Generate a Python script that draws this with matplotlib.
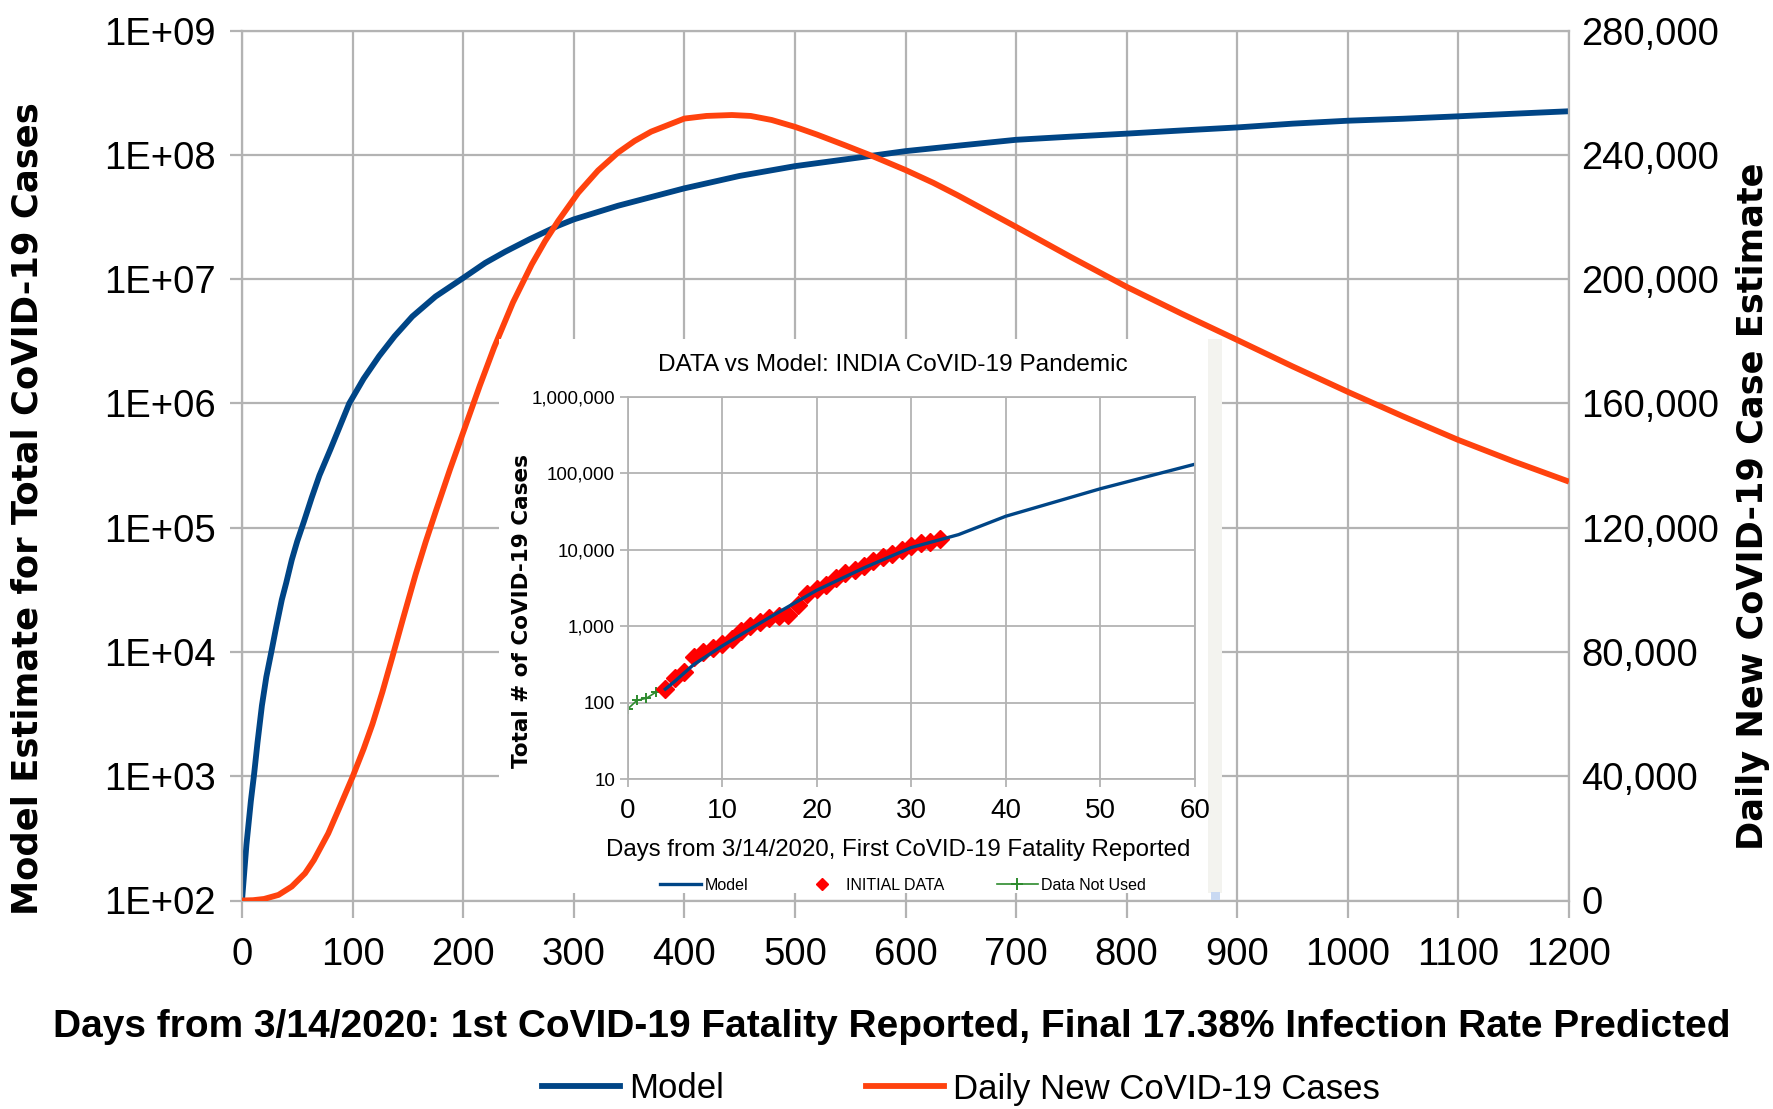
import numpy as np
import matplotlib
matplotlib.use("Agg")
import matplotlib.pyplot as plt
from matplotlib import font_manager as fm
from matplotlib.ticker import FixedLocator, FuncFormatter, NullLocator
from matplotlib.lines import Line2D
from matplotlib.patches import Rectangle

# ---- data ----
# main chart: model estimate of total cases (left, log axis)
model_days = [0, 4, 8, 11, 14, 18, 22, 27, 31, 36, 40, 45, 50, 56, 63, 70, 80, 97, 110,
              124, 138, 154, 175, 200, 220, 238, 260, 286, 300, 340, 370, 400, 450, 500,
              550, 600, 650, 700, 750, 800, 850, 900, 950, 1000, 1050, 1100, 1150, 1200]
model_cases = [1.0e2, 2.8e2, 6.3e2, 1.05e3, 1.86e3, 3.7e3, 6.3e3, 1.05e4, 1.6e4, 2.63e4,
               3.6e4, 5.5e4, 7.8e4, 1.12e5, 1.74e5, 2.63e5, 4.27e5, 1.0e6, 1.58e6,
               2.4e6, 3.47e6, 5.0e6, 7.24e6, 1.02e7, 1.35e7, 1.66e7, 2.09e7, 2.69e7, 3.02e7,
               3.89e7, 4.57e7, 5.37e7, 6.76e7, 8.1e7, 9.3e7, 1.07e8, 1.19e8, 1.32e8, 1.4e8,
               1.48e8, 1.57e8, 1.66e8, 1.78e8, 1.88e8, 1.95e8, 2.04e8, 2.14e8, 2.24e8]

# main chart: daily new cases (right, linear axis)
daily_days = [0, 10, 20, 33, 45, 57, 65, 78, 88, 100, 110, 118, 127, 136, 146, 157, 166,
              175, 188, 202, 215, 228, 245, 262, 274, 286, 304, 322, 340, 355, 370, 400,
              420, 443, 460, 479, 500, 520, 545, 570, 600, 625, 647, 700, 750, 800, 850,
              900, 950, 1000, 1050, 1100, 1150, 1200]
daily_cases = [0, 100, 500, 1800, 4500, 8750, 13000, 21600, 29800, 39800, 48800, 56800,
               67150, 78400, 91200, 104950, 115300, 125000, 138650, 152650, 165650, 178000,
               192450, 204700, 212150, 218750, 227750, 234950, 240700, 244450, 247450,
               251650, 252500, 252800, 252500, 251200, 249000, 246500, 243100, 239600,
               235100, 231000, 227000, 216800, 207000, 197500, 188800, 180400, 171900,
               163700, 155800, 148200, 141300, 134800]

# inset: India data vs model
unused_days = [0, 1, 2, 3]
unused_cases = [82, 107, 114, 137]
initial_days = list(range(4, 34))
initial_cases = [150, 213, 253, 395, 466, 520, 585, 690, 860, 1020, 1140, 1280, 1350, 1420,
                 1870, 2600, 3100, 3500, 4300, 4900, 5400, 6100, 7200, 8000, 8900, 10000,
                 11300, 12100, 12500, 14000]
inset_model_days = [4, 5, 7, 10, 15, 20, 25, 30, 35, 40, 50, 60]
inset_model_cases = [150, 190, 315, 550, 1300, 2950, 5800, 10700, 15800, 27500, 63000, 132000]

main_xticks = list(range(0, 1201, 100))
left_ticks = [1e2, 1e3, 1e4, 1e5, 1e6, 1e7, 1e8, 1e9]
right_ticks = list(range(0, 280001, 40000))
inset_xticks = list(range(0, 61, 10))
inset_yticks = [10, 100, 1000, 10000, 100000, 1000000]

BLUE = '#004586'
ORANGE = '#ff420e'
GRID = '#b3b3b3'

# fonts
names = {f.name for f in fm.fontManager.ttflist}
NARROW = 'Liberation Sans Narrow' if 'Liberation Sans Narrow' in names else 'Liberation Sans'
WIDE_BOLD = 'DejaVu Sans'
plt.rcParams['font.family'] = [NARROW, 'DejaVu Sans']

W, H = 1773, 1109


def fx(px):
    return px / W


def fy(py):
    return 1 - py / H


fig = plt.figure(figsize=(W / 100, H / 100), dpi=100)
fig.patch.set_facecolor('white')

# ---- main chart ----
ax = fig.add_axes([fx(242), fy(900.5), fx(1569 - 242), (900.5 - 30.5) / H])
ax.set_yscale('log')
ax.set_xlim(0, 1200)
ax.set_ylim(1e2, 1e9)
ax.xaxis.set_major_locator(FixedLocator(main_xticks))
ax.yaxis.set_major_locator(FixedLocator(left_ticks))
ax.yaxis.set_minor_locator(NullLocator())
ax.yaxis.set_major_formatter(FuncFormatter(lambda v, p: '1E+%02d' % round(np.log10(v))))
ax.grid(True, color=GRID, lw=1.6)
ax.tick_params(axis='both', colors=GRID, labelcolor='black', labelsize=27.5, width=1.6)
ax.tick_params(axis='y', length=9, pad=10)
ax.tick_params(axis='x', length=12, pad=14)
for s in ax.spines.values():
    s.set_color(GRID)
    s.set_linewidth(1.6)
ax.plot(model_days, model_cases, color=BLUE, lw=4.2, solid_capstyle='butt', label='Model')

ax2 = ax.twinx()
ax2.set_ylim(0, 280000)
ax2.yaxis.set_major_locator(FixedLocator(right_ticks))
ax2.yaxis.set_major_formatter(FuncFormatter(lambda v, p: '{:,}'.format(int(v))))
ax2.tick_params(axis='y', length=0, pad=9, labelsize=27.5)
for s in ax2.spines.values():
    s.set_visible(False)
ax2.plot(daily_days, daily_cases, color=ORANGE, lw=4.2, solid_capstyle='butt',
         label='Daily New CoVID-19 Cases')

fig.text(fx(28), fy(509), 'Model Estimate for Total CoVID-19 Cases', rotation=90,
         ha='center', va='center', family=WIDE_BOLD, weight='bold', fontsize=25.5)
fig.text(fx(1753), fy(506), 'Daily New CoVID-19 Case Estimate', rotation=90,
         ha='center', va='center', family=WIDE_BOLD, weight='bold', fontsize=25.3)
fig.text(fx(892), fy(1027),
         'Days from 3/14/2020: 1st CoVID-19 Fatality Reported, Final 17.38% Infection Rate Predicted',
         ha='center', va='center', family='Liberation Sans', weight='bold', fontsize=28)

handles = [Line2D([], [], color=BLUE, lw=4.2), Line2D([], [], color=ORANGE, lw=4.2)]
fig.legend(handles, ['Model', 'Daily New CoVID-19 Cases'], loc='center',
           bbox_to_anchor=(fx(961), fy(1089)), ncol=2, frameon=False, fontsize=25,
           handlelength=2.25, handletextpad=0.25, columnspacing=4.1)

# ---- inset panel ----
box = fig.add_axes([fx(499), fy(893), fx(1208 - 499), (893 - 339) / H])
box.set_zorder(3)
box.set_facecolor('white')
box.set_xticks([])
box.set_yticks([])
for s in box.spines.values():
    s.set_visible(False)
fig.patches.append(Rectangle((fx(1208), fy(893)), fx(14), (893 - 339) / H,
                             transform=fig.transFigure, facecolor='#f3f3ef',
                             edgecolor='none', zorder=3))
fig.patches.append(Rectangle((fx(1211), fy(900)), fx(9), 8 / H,
                             transform=fig.transFigure, facecolor='#c9d9f2',
                             edgecolor='none', zorder=3))

ins = fig.add_axes([fx(627.5), fy(779), fx(1195 - 627.5), (779 - 397) / H])
ins.set_zorder(4)
ins.set_facecolor('white')
ins.set_yscale('log')
ins.set_xlim(0, 60)
ins.set_ylim(10, 1e6)
ins.xaxis.set_major_locator(FixedLocator(inset_xticks))
ins.yaxis.set_major_locator(FixedLocator(inset_yticks))
ins.yaxis.set_minor_locator(NullLocator())
ins.yaxis.set_major_formatter(FuncFormatter(lambda v, p: '{:,}'.format(int(v))))
ins.grid(True, color=GRID, lw=1.3)
ins.tick_params(axis='both', colors=GRID, labelcolor='black', width=1.3, length=6)
ins.tick_params(axis='y', labelsize=13.5, pad=3)
ins.tick_params(axis='x', labelsize=20, pad=8)
for s in ins.spines.values():
    s.set_color(GRID)
    s.set_linewidth(1.3)
ins.plot(unused_days, unused_cases, color='#2e8b2e', lw=1.2, marker='+', ms=7, mew=1.4)
ins.plot(initial_days, initial_cases, ls='none', marker='D', ms=9, color='#ff0000', mec='#ff0000')
ins.plot(inset_model_days, inset_model_cases, color=BLUE, lw=2.4)

fig.text(fx(893), fy(365), 'DATA vs Model: INDIA CoVID-19 Pandemic', ha='center', va='center',
         fontsize=17.6, zorder=5)
fig.text(fx(898), fy(850), 'Days from 3/14/2020, First CoVID-19 Fatality Reported',
         ha='center', va='center', fontsize=17.3, zorder=5)
fig.text(fx(522), fy(611), 'Total # of CoVID-19 Cases', rotation=90, ha='center', va='center',
         family=WIDE_BOLD, weight='bold', fontsize=15.5, zorder=5)

inset_handles = [Line2D([], [], color=BLUE, lw=2.4),
                 Line2D([], [], ls='none', marker='D', ms=6, color='#ff0000'),
                 Line2D([], [], color='#2e8b2e', lw=1.2, marker='+', ms=8, mew=1.4)]
leg = fig.legend(inset_handles, ['Model', 'INITIAL DATA', 'Data Not Used'], loc='center',
                 bbox_to_anchor=(fx(903), fy(885)), ncol=3, frameon=False, fontsize=11.5,
                 handlelength=2.6, handletextpad=0.2, columnspacing=3.3)
leg.set_zorder(6)

fig.savefig('out.png', dpi=100, facecolor='white')
